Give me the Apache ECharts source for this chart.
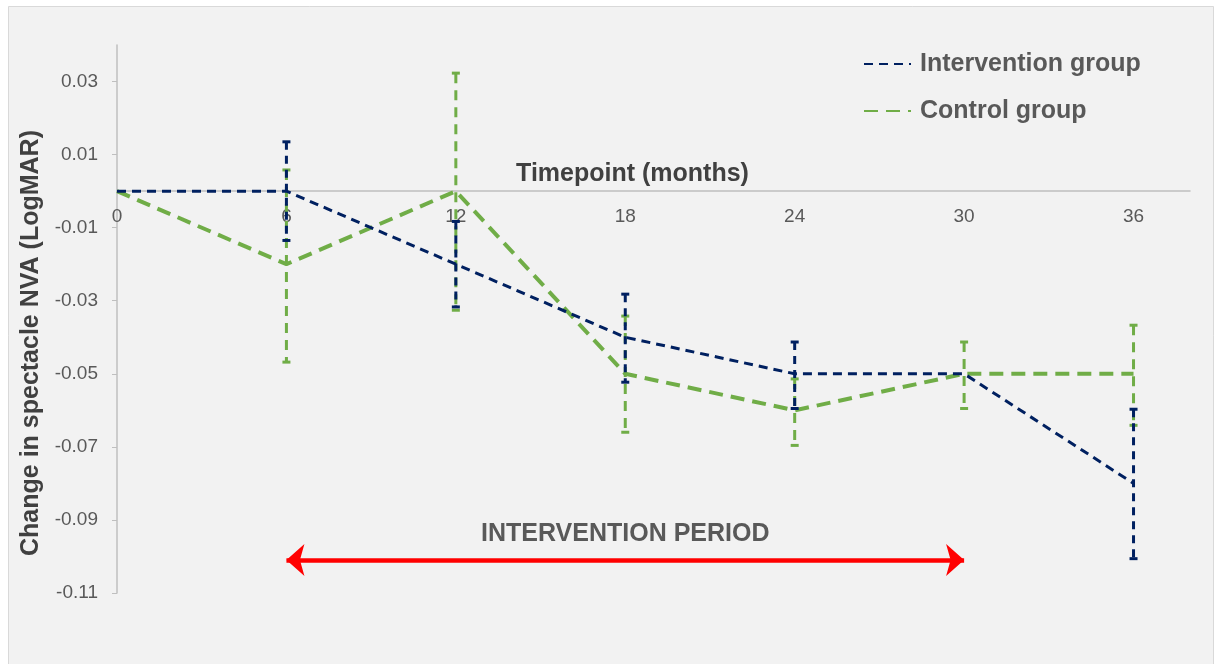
<!DOCTYPE html>
<html>
<head>
<meta charset="utf-8">
<script src="https://cdn.jsdelivr.net/npm/echarts@6/dist/echarts.min.js"></script>
<style>
  html, body { margin: 0; padding: 0; background: #ffffff; }
  #chart { width: 1220px; height: 664px; }
</style>
</head>
<body>
<div id="chart"></div>
<script>
// months on the x axis
const months = [0, 6, 12, 18, 24, 30, 36];
// mean change, intervention group
const interMean = [0, 0, -0.02, -0.04, -0.05, -0.05, -0.08];
const interLow = [null, -0.0135, -0.0317, -0.0523, -0.0595, null, -0.1006];
const interHigh = [null, 0.0135, -0.0083, -0.0282, -0.0413, null, -0.0597];
// mean change, control group
const ctrlMean = [0, -0.02, 0, -0.05, -0.06, -0.05, -0.05];
const ctrlLow = [null, -0.0468, -0.0326, -0.066, -0.0696, -0.0595, -0.0641];
const ctrlHigh = [null, 0.0058, 0.0323, -0.0342, -0.0514, -0.0413, -0.0367];
// y tick labels
const yTicks = [-0.11, -0.09, -0.07, -0.05, -0.03, -0.01, 0.01, 0.03];
const yMin = -0.11;
const yMax = 0.04;
// intervention period (months) and where the arrow sits
const periodStart = 6;
const periodEnd = 30;
const periodLevel = -0.101;

const NAVY = "#002060";
const GREEN = "#70ad47";
const FONT = "Liberation Sans, Arial, sans-serif";

const gridTop = 45;
const gridBottom = 71;
const plotH = 664 - gridTop - gridBottom;
// x axis sits on y = 0, moved up from the bottom of the grid
const xOffset = -plotH * (0 - yMin) / (yMax - yMin);

function pairs(xs, ys) {
  return xs.map((x, i) => [x, ys[i]]);
}

function errData(xs, lo, hi) {
  const out = [];
  xs.forEach((x, i) => {
    if (lo[i] != null && hi[i] != null) out.push([x, lo[i], hi[i]]);
  });
  return out;
}

function errorBar(color, width, dash) {
  return function (params, api) {
    const x = api.value(0);
    const top = api.coord([x, api.value(2)]);
    const bot = api.coord([x, api.value(1)]);
    const w = 4;
    const capStyle = { stroke: color, lineWidth: width };
    return {
      type: "group",
      children: [
        {
          type: "line",
          shape: { x1: top[0], y1: top[1], x2: bot[0], y2: bot[1] },
          style: { stroke: color, lineWidth: width, lineDash: dash }
        },
        {
          type: "line",
          shape: { x1: top[0] - w, y1: top[1], x2: top[0] + w, y2: top[1] },
          style: capStyle
        },
        {
          type: "line",
          shape: { x1: bot[0] - w, y1: bot[1], x2: bot[0] + w, y2: bot[1] },
          style: capStyle
        }
      ]
    };
  };
}

const myChart = echarts.init(document.getElementById("chart"));

const option = {
  animation: false,
  backgroundColor: "#ffffff",
  textStyle: { fontFamily: FONT },
  graphic: [
    {
      type: "rect",
      z: -10,
      silent: true,
      shape: { x: 8.5, y: 6.5, width: 1205, height: 680 },
      style: { fill: "#f2f2f2", stroke: "#d9d9d9", lineWidth: 1 }
    }
  ],
  grid: {
    left: 117,
    right: 30,
    top: gridTop,
    bottom: gridBottom
  },
  legend: {
    orient: "vertical",
    left: 858,
    top: 44,
    itemWidth: 47,
    itemHeight: 14,
    itemGap: 17,
    data: ["Intervention group", "Control group"],
    itemStyle: { opacity: 0 },
    textStyle: {
      fontFamily: FONT,
      fontSize: 25,
      fontWeight: "bold",
      color: "#595959",
      lineHeight: 30,
      padding: [0, 0, 0, 4]
    }
  },
  xAxis: {
    type: "value",
    min: 0,
    max: 38,
    interval: 6,
    position: "bottom",
    offset: xOffset,
    name: "Timepoint (months)",
    nameLocation: "middle",
    nameGap: -30,
    nameTextStyle: {
      fontFamily: FONT,
      fontSize: 25,
      fontWeight: "bold",
      color: "#404040",
      padding: [0, 42, 0, 0]
    },
    axisLine: { onZero: false, lineStyle: { color: "#bfbfbf", width: 1.5 } },
    axisTick: { show: false },
    splitLine: { show: false },
    axisLabel: {
      showMaxLabel: false,
      fontFamily: FONT,
      fontSize: 19,
      color: "#595959",
      margin: 16
    }
  },
  yAxis: {
    type: "value",
    min: yMin,
    max: yMax,
    name: "Change in spectacle NVA (LogMAR)",
    nameLocation: "middle",
    nameGap: 73,
    nameTextStyle: {
      fontFamily: FONT,
      fontSize: 25,
      fontWeight: "bold",
      color: "#404040",
      padding: [0, 48, 0, 0]
    },
    axisLine: { show: true, lineStyle: { color: "#bfbfbf", width: 1.5 } },
    axisTick: {
      show: true,
      length: 5,
      customValues: yTicks,
      lineStyle: { color: "#bfbfbf" }
    },
    splitLine: { show: false },
    axisLabel: {
      customValues: yTicks,
      fontFamily: FONT,
      fontSize: 19,
      color: "#595959",
      margin: 19,
      formatter: function (v) {
        return v.toFixed(2);
      }
    }
  },
  series: [
    {
      name: "Control group",
      type: "line",
      symbol: "none",
      itemStyle: { color: GREEN },
      lineStyle: { color: GREEN, width: 4, type: [14, 8] },
      data: pairs(months, ctrlMean),
      z: 3
    },
    {
      name: "ctrl-err",
      type: "custom",
      renderItem: errorBar(GREEN, 3, [10, 7]),
      data: errData(months, ctrlLow, ctrlHigh),
      z: 3
    },
    {
      name: "Intervention group",
      type: "line",
      symbol: "none",
      itemStyle: { color: NAVY },
      lineStyle: { color: NAVY, width: 3, type: [9, 6] },
      data: pairs(months, interMean),
      z: 4
    },
    {
      name: "inter-err",
      type: "custom",
      renderItem: errorBar(NAVY, 3, [8, 6]),
      data: errData(months, interLow, interHigh),
      z: 4
    },
    {
      name: "period",
      type: "line",
      data: [],
      markLine: {
        silent: true,
        symbol: ["arrow", "arrow"],
        symbolSize: [24, 18],
        lineStyle: { color: "#ff0000", width: 4.5, type: "solid" },
        label: {
          show: true,
          position: "middle",
          distance: 14,
          formatter: "INTERVENTION PERIOD",
          fontFamily: FONT,
          fontSize: 25,
          fontWeight: "bold",
          color: "#595959"
        },
        data: [
          [
            { coord: [periodStart, periodLevel] },
            { coord: [periodEnd, periodLevel] }
          ]
        ]
      }
    }
  ]
};

myChart.setOption(option);
</script>
</body>
</html>
